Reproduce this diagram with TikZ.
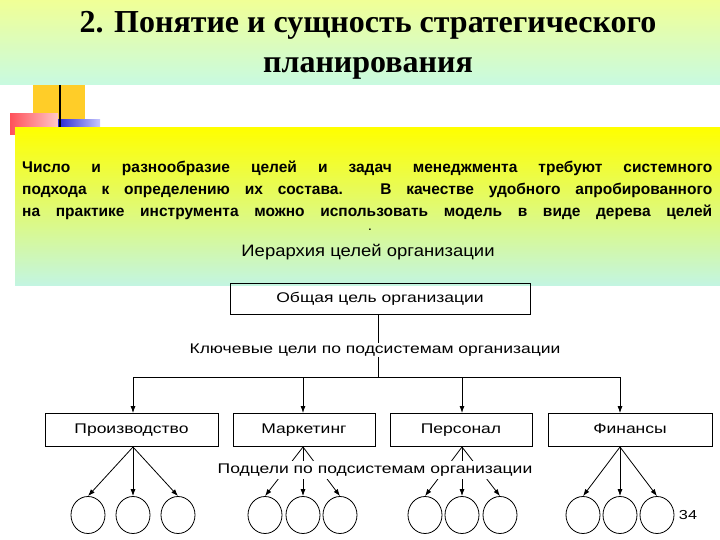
\documentclass[tikz,border=0pt]{standalone}
\usepackage{fontspec}
\usetikzlibrary{shapes.geometric,arrows.meta}
\setmainfont{Liberation Serif}
\setsansfont{Liberation Sans}
\newfontfamily\diag[FakeStretch=1.25]{Liberation Sans}
\newfontfamily\hierf[FakeStretch=1.12]{Liberation Sans}
\definecolor{tgA}{RGB}{240,255,150}
\definecolor{tgB}{RGB}{200,250,225}
\definecolor{sqY}{RGB}{255,205,40}
\definecolor{sqR}{RGB}{255,80,90}
\definecolor{sqRl}{RGB}{255,200,200}
\definecolor{sqB}{RGB}{40,40,210}
\definecolor{sqBl}{RGB}{200,200,255}
\definecolor{ybT}{RGB}{255,255,0}
\definecolor{ybM}{RGB}{215,250,200}
\definecolor{ybB}{RGB}{195,245,225}
\begin{document}
\begin{tikzpicture}[x=1pt,y=-1pt,
  bx/.style={draw,line width=0.8pt,minimum height=33pt,text height=10pt,text depth=3pt,font=\diag\fontsize{14}{16}\selectfont},
  cir/.style={draw,line width=0.8pt,ellipse,minimum width=34pt,minimum height=37pt,inner sep=0pt},
  arr/.style={-{Latex[length=7pt,width=5pt]},line width=0.8pt},
  lbl/.style={font=\diag\fontsize{14}{16}\selectfont,fill=white,inner sep=1pt},
  pline/.style={anchor=west,inner sep=0pt,font=\sffamily\bfseries\fontsize{15.5}{18}\selectfont}]
\useasboundingbox (0,0) rectangle (720,540);
\fill[white] (0,0) rectangle (720,540);
\shade[top color=tgA,bottom color=tgB] (0,0) rectangle (720,85);
% decorations
\fill[sqY] (33,85) rectangle (85,135);
\shade[left color=sqR,right color=sqRl] (10,114) rectangle (58,135);
\shade[left color=sqB,right color=sqBl] (58,120) rectangle (100,135);
\draw[line width=2pt] (60,85) -- (60,140);
% yellow box
\shade[top color=ybT,middle color=ybM,bottom color=ybB] (15,128) rectangle (720,285);
\node[font=\bfseries\fontsize{32}{40}\selectfont,align=center] (title) at (368,45) {2. Понятие и сущность стратегического\\планирования};
\node[pline] (p1) at (22,168) {\makebox[690pt][s]{Число и разнообразие целей и задач менеджмента требуют системного}};
\node[pline] (p2) at (22,190) {\makebox[690pt][s]{подхода к определению их состава. В качестве удобного апробированного}};
\node[pline] (p3) at (22,212) {\makebox[690pt][s]{на практике инструмента можно использовать модель в виде дерева целей}};
\node[font=\sffamily\bfseries] (dot) at (370,230) {.};
\node[font=\hierf\fontsize{16.5}{19}\selectfont] (hier) at (368,252) {Иерархия целей организации};
% tree
\node[bx,minimum width=300pt,minimum height=31pt] (top) at (380,298.5) {Общая цель организации};
\node[lbl] (key) at (375,350) {Ключевые цели по подсистемам организации};
\node[bx,minimum width=173pt] (b1) at (131.5,430) {Производство};
\node[bx,minimum width=142pt] (b2) at (304,430) {Маркетинг};
\node[bx,minimum width=142pt] (b3) at (461,430) {Персонал};
\node[bx,minimum width=164pt] (b4) at (630,430) {Финансы};
\coordinate (hl) at (133,377);
\coordinate (hr) at (620,377);
\coordinate (hm) at (378,377);
\draw[line width=0.8pt] (top.south -| hm) -- (key.north -| hm);
\draw[line width=0.8pt] (key.south -| hm) -- (hm);
\draw[line width=0.8pt] (hl) -- (hr);
\draw[arr] (hl) -- (hl |- b1.north);
\draw[arr] (303,377) -- (303,413);
\draw[arr] (462,377) -- (462,413);
\draw[arr] (hr) -- (hr |- b4.north);
\foreach \n/\c/\xa/\xb/\xc in {1/133/88/133/178, 2/303/265/303/340, 3/462/425/462/500, 4/620/583/620/657}{
  \coordinate (s\n) at (\c,447);
  \node[cir] (c\n a) at (\xa,515) {};
  \node[cir] (c\n b) at (\xb,515) {};
  \node[cir] (c\n c) at (\xc,515) {};
  \draw[arr] (s\n) -- (c\n a.north);
  \draw[arr] (s\n) -- (c\n b.north);
  \draw[arr] (s\n) -- (c\n c.north);
}
\node[lbl,inner ysep=3pt] (sub) at (375,470) {Подцели по подсистемам организации};
\node[font=\diag\fontsize{13}{15}\selectfont] (num) at (688,515) {34};
\end{tikzpicture}
\end{document}
